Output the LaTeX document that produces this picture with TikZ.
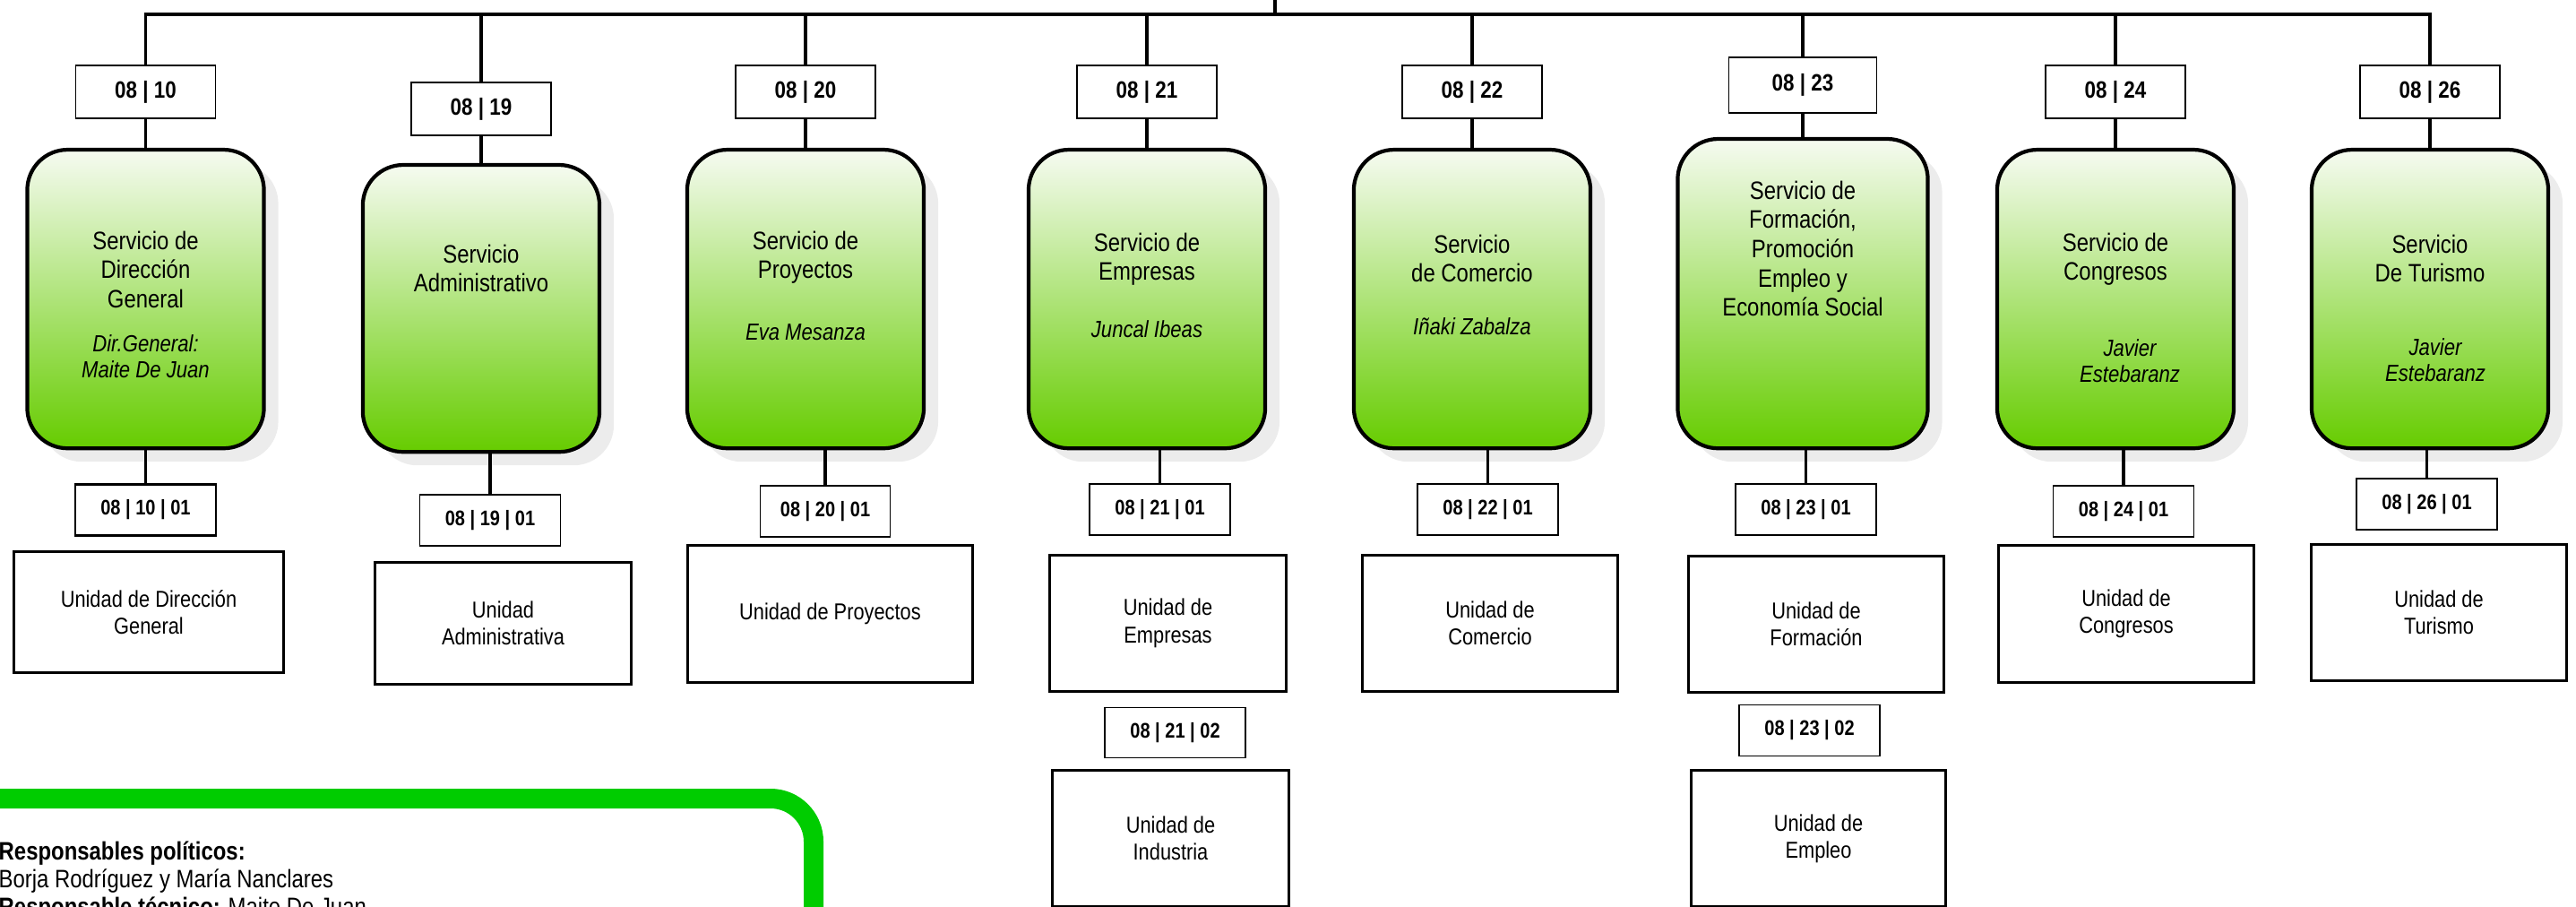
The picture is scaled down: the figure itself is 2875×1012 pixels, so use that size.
\documentclass[tikz,border=0pt]{standalone}
\usepackage{fontspec}
\setmainfont{Liberation Sans}[FakeStretch=0.85]
\usepackage{tikz}
\usetikzlibrary{positioning, shadows}
\definecolor{servicetop}{RGB}{246, 251, 241}
\definecolor{servicebot}{RGB}{102, 204, 0}
\definecolor{legendgreen}{RGB}{0, 204, 0}
\definecolor{shadowgray}{RGB}{236, 236, 236}

\begin{document}
\begin{tikzpicture}[x=0.01cm, y=-0.01cm, node distance=0.35cm,
    code/.style={rectangle, draw, line width=0.5pt, inner sep=0pt, outer sep=0pt, minimum width=1.56cm, minimum height=0.59cm, font=\fontsize{7.5}{9}\selectfont\bfseries},
    subcode/.style={code, minimum width=1.57cm, minimum height=0.57cm, font=\fontsize{6.7}{8}\selectfont\bfseries},
    service/.style={rectangle, rounded corners=0.45cm, draw, line width=1.2pt, top color=servicetop, bottom color=servicebot, minimum width=2.64cm, minimum height=3.33cm, inner sep=0pt, outer sep=0pt, general shadow={shadow xshift=0.16cm, shadow yshift=-0.15cm, fill=shadowgray}},
    srvtitle/.style={align=center, inner sep=0pt, font=\fontsize{8}{9.3}\selectfont},
    person/.style={align=center, inner sep=0pt, font=\fontsize{7.4}{8.3}\selectfont\itshape},
    unitbox/.style={rectangle, draw, line width=0.85pt, align=center, inner sep=0pt, outer sep=0pt, minimum width=2.84cm, minimum height=1.52cm, font=\fontsize{7.3}{8.6}\selectfont},
    link/.style={line width=1.05pt},
    legendframe/.style={line width=0.22cm, color=legendgreen, rounded corners=0.48cm},
    legendtext/.style={align=left, inner sep=0pt, font=\fontsize{8}{8.8}\selectfont}]

    \useasboundingbox (0,0) rectangle (2875,1012);

    % Service codes
    \node[code] (dir_code) at (162.5,102.5) {08 | 10};
    \node[code] (adm_code) at (537,121.5) {08 | 19};
    \node[code] (proy_code) at (899,102.5) {08 | 20};
    \node[code] (emp_code) at (1280,102.5) {08 | 21};
    \node[code] (com_code) at (1643,102.5) {08 | 22};
    \node[code, minimum width=1.65cm, minimum height=0.62cm] (form_code) at (2012,95) {08 | 23};
    \node[code] (cong_code) at (2361,102.5) {08 | 24};
    \node[code] (tur_code) at (2712,102.5) {08 | 26};

    % Services
    \node[service, below=of dir_code] (dir_srv) {};
    \node[service, below=0.33cm of adm_code, minimum height=3.2cm] (adm_srv) {};
    \node[service, below=of proy_code] (proy_srv) {};
    \node[service, below=of emp_code] (emp_srv) {};
    \node[service, below=of com_code] (com_srv) {};
    \node[service, below=0.29cm of form_code, minimum width=2.79cm, minimum height=3.45cm] (form_srv) {};
    \node[service, below=of cong_code] (cong_srv) {};
    \node[service, below=of tur_code] (tur_srv) {};

    \node[srvtitle, below=0.90cm of dir_srv.north] (dir_title) {Servicio de\\Dirección\\General};
    \node[person, below=2.06cm of dir_srv.north] (dir_name) {Dir.General:\\Maite De Juan};
    \node[srvtitle, below=0.88cm of adm_srv.north] (adm_title) {Servicio\\Administrativo};
    \node[srvtitle, below=0.90cm of proy_srv.north] (proy_title) {Servicio de\\Proyectos};
    \node[person, below=1.94cm of proy_srv.north] (proy_name) {Eva Mesanza};
    \node[srvtitle, below=0.92cm of emp_srv.north] (emp_title) {Servicio de\\Empresas};
    \node[person, below=1.90cm of emp_srv.north] (emp_name) {Juncal Ibeas};
    \node[srvtitle, below=0.94cm of com_srv.north] (com_title) {Servicio\\de Comercio};
    \node[person, below=1.87cm of com_srv.north] (com_name) {Iñaki Zabalza};
    \node[srvtitle, below=0.46cm of form_srv.north] (form_title) {Servicio de\\Formación,\\Promoción\\Empleo y\\Economía Social};
    \node[srvtitle, below=0.92cm of cong_srv.north] (cong_title) {Servicio de\\Congresos};
    \node[person, below=2.11cm of cong_srv.north, xshift=0.16cm] (cong_name) {Javier\\Estebaranz};
    \node[srvtitle, below=0.94cm of tur_srv.north] (tur_title) {Servicio\\De Turismo};
    \node[person, below=2.10cm of tur_srv.north, xshift=0.06cm] (tur_name) {Javier\\Estebaranz};

    % Unit codes
    \node[subcode, below=0.40cm of dir_srv, line width=0.8pt] (dir_subcode) {08 | 10 | 01};
    \node[subcode, below=0.48cm of adm_srv, xshift=0.10cm] (adm_subcode) {08 | 19 | 01};
    \node[subcode, below=0.42cm of proy_srv, xshift=0.22cm, minimum width=1.45cm] (proy_subcode) {08 | 20 | 01};
    \node[subcode, below=0.40cm of emp_srv, xshift=0.145cm] (emp_subcode) {08 | 21 | 01};
    \node[subcode, below=0.40cm of com_srv, xshift=0.175cm] (com_subcode) {08 | 22 | 01};
    \node[subcode, below=0.40cm of form_srv, xshift=0.035cm] (form_subcode) {08 | 23 | 01};
    \node[subcode, below=0.42cm of cong_srv, xshift=0.09cm] (cong_subcode) {08 | 24 | 01};
    \node[subcode, below=0.34cm of tur_srv, xshift=-0.035cm] (tur_subcode) {08 | 26 | 01};

    % Units
    \node[unitbox, below=0.18cm of dir_subcode, xshift=0.035cm, minimum width=3.01cm, minimum height=1.35cm] (dir_unit) {Unidad de Dirección\\General};
    \node[unitbox, below=0.18cm of adm_subcode, xshift=0.145cm, minimum width=2.85cm, minimum height=1.36cm] (adm_unit) {Unidad\\Administrativa};
    \node[unitbox, below=0.09cm of proy_subcode, xshift=0.055cm, minimum width=3.17cm, minimum height=1.53cm] (proy_unit) {Unidad de Proyectos};
    \node[unitbox, below=0.22cm of emp_subcode, xshift=0.09cm, minimum width=2.63cm] (emp_unit) {Unidad de\\Empresas};
    \node[unitbox, below=0.22cm of com_subcode, xshift=0.025cm] (com_unit) {Unidad de\\Comercio};
    \node[unitbox, below=0.23cm of form_subcode, xshift=0.115cm] (form_unit) {Unidad de\\Formación};
    \node[unitbox, below=0.09cm of cong_subcode, xshift=0.03cm, minimum height=1.53cm] (cong_unit) {Unidad de\\Congresos};
    \node[unitbox, below=0.16cm of tur_subcode, xshift=0.135cm] (tur_unit) {Unidad de\\Turismo};

    \node[subcode, below=0.18cm of emp_unit, xshift=0.08cm, minimum height=0.56cm] (ind_subcode) {08 | 21 | 02};
    \node[unitbox, below=0.14cm of ind_subcode, xshift=-0.05cm, minimum width=2.63cm] (ind_unit) {Unidad de\\Industria};
    \node[subcode, below=0.14cm of form_unit, xshift=-0.075cm] (empl_subcode) {08 | 23 | 02};
    \node[unitbox, below=0.16cm of empl_subcode, xshift=0.10cm, minimum width=2.83cm] (empl_unit) {Unidad de\\Empleo};

    % Flows
    \coordinate (root) at (1423,0);
    \coordinate (bus) at (1423,16);
    \draw[link] (root) -- (bus);
    \draw[link] (dir_code.north) |- (bus) -| (tur_code.north);
    \draw[link] (adm_code.north) -- (adm_code.north |- bus);
    \draw[link] (proy_code.north) -- (proy_code.north |- bus);
    \draw[link] (emp_code.north) -- (emp_code.north |- bus);
    \draw[link] (com_code.north) -- (com_code.north |- bus);
    \draw[link] (form_code.north) -- (form_code.north |- bus);
    \draw[link] (cong_code.north) -- (cong_code.north |- bus);

    \draw[link] (dir_code) -- (dir_srv);
    \draw[link] (adm_code) -- (adm_srv);
    \draw[link] (proy_code) -- (proy_srv);
    \draw[link] (emp_code) -- (emp_srv);
    \draw[link] (com_code) -- (com_srv);
    \draw[link] (form_code) -- (form_srv);
    \draw[link] (cong_code) -- (cong_srv);
    \draw[link] (tur_code) -- (tur_srv);

    \draw[link] (dir_subcode.north) -- (dir_subcode.north |- dir_srv.south);
    \draw[link] (adm_subcode.north) -- (adm_subcode.north |- adm_srv.south);
    \draw[link] (proy_subcode.north) -- (proy_subcode.north |- proy_srv.south);
    \draw[link] (emp_subcode.north) -- (emp_subcode.north |- emp_srv.south);
    \draw[link] (com_subcode.north) -- (com_subcode.north |- com_srv.south);
    \draw[link] (form_subcode.north) -- (form_subcode.north |- form_srv.south);
    \draw[link] (cong_subcode.north) -- (cong_subcode.north |- cong_srv.south);
    \draw[link] (tur_subcode.north) -- (tur_subcode.north |- tur_srv.south);

    % Legend
    \draw[legendframe] (-60,891) -| (908,1100);
    \node[legendtext, anchor=north west] (resp) at (-2,938) {\textbf{Responsables políticos:}\\Borja Rodríguez y María Nanclares\\\textbf{Responsable técnico:} Maite De Juan};
\end{tikzpicture}
\end{document}
